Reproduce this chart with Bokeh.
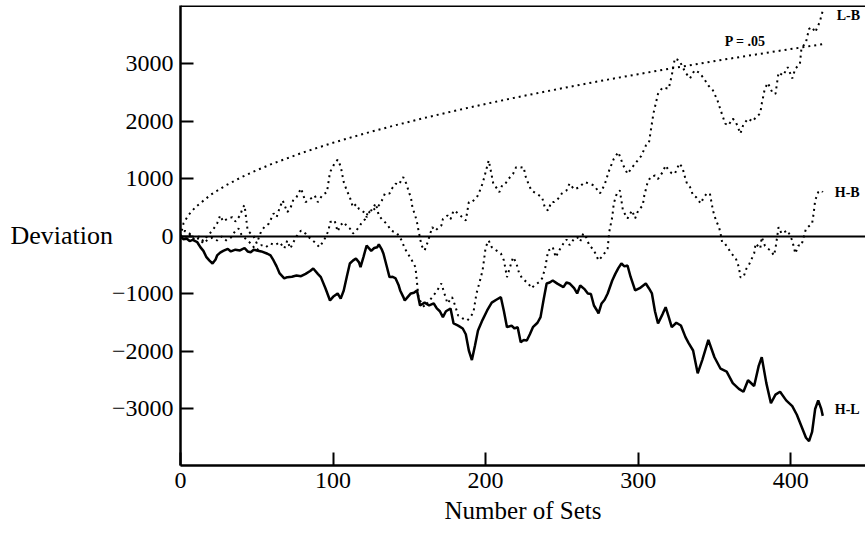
from bokeh.plotting import figure
from bokeh.models import Range1d, FixedTicker, Span, Label
from bokeh.embed import file_html
from bokeh.resources import INLINE

# ---- data ----
hl_sets = [0, 2, 4, 6, 8, 11, 13, 15, 17, 19, 21, 23, 24, 26, 28, 31, 33, 36, 39, 42, 44, 46, 48, 50, 53, 57, 59, 61, 63, 65, 68, 70, 73, 76, 79, 82, 85, 87, 90, 92, 95, 98, 100, 103, 105, 107, 109, 111, 113, 115, 117, 118, 120, 122, 125, 127, 129, 130, 132, 133, 135, 137, 139, 141, 143, 144, 146, 147, 149, 151, 153, 155, 157, 160, 163, 166, 168, 170, 172, 174, 177, 179, 182, 185, 187, 189, 191, 193, 195, 198, 201, 204, 207, 210, 212, 214, 217, 219, 221, 223, 225, 227, 229, 231, 234, 236, 238, 240, 242, 244, 247, 249, 251, 253, 255, 258, 260, 262, 265, 267, 269, 271, 273, 274, 276, 278, 280, 283, 285, 287, 289, 291, 293, 295, 298, 301, 305, 307, 309, 311, 313, 316, 318, 320, 322, 325, 328, 331, 333, 336, 339, 342, 346, 350, 354, 358, 362, 366, 369, 372, 376, 379, 381, 384, 387, 390, 393, 397, 401, 404, 407, 410, 412, 414, 416, 418, 420, 421]
hl_dev = [0, -50, -35, -80, -60, -100, -186, -250, -360, -420, -470, -400, -330, -280, -250, -215, -260, -230, -243, -200, -260, -273, -230, -243, -260, -300, -330, -417, -520, -643, -730, -707, -700, -680, -690, -650, -600, -557, -650, -707, -900, -1113, -1050, -991, -1080, -939, -700, -470, -420, -383, -450, -533, -350, -157, -250, -200, -186, -139, -230, -296, -500, -707, -700, -730, -850, -939, -1050, -1113, -1050, -991, -980, -939, -1200, -1150, -1200, -1165, -1250, -1300, -1403, -1300, -1252, -1513, -1550, -1600, -1700, -1983, -2150, -1900, -1635, -1450, -1287, -1150, -1100, -1055, -1300, -1577, -1550, -1600, -1577, -1838, -1800, -1809, -1700, -1577, -1500, -1403, -1100, -817, -800, -765, -820, -850, -881, -800, -817, -900, -991, -852, -920, -991, -1000, -1200, -1287, -1339, -1165, -1100, -991, -765, -650, -550, -470, -520, -504, -700, -939, -900, -817, -900, -991, -1300, -1513, -1350, -1229, -1400, -1577, -1500, -1548, -1751, -1850, -1983, -2380, -2150, -1800, -2100, -2300, -2350, -2550, -2650, -2700, -2500, -2600, -2250, -2100, -2550, -2900, -2750, -2700, -2850, -2950, -3100, -3300, -3500, -3560, -3400, -3000, -2850, -3000, -3120]

hb_sets = [0, 3, 6, 9, 12, 15, 18, 21, 24, 27, 30, 33, 36, 38, 40, 43, 46, 48, 50, 53, 56, 59, 62, 65, 68, 70, 72, 74, 76, 79, 82, 85, 88, 91, 94, 97, 98, 101, 103, 105, 107, 109, 111, 113, 115, 117, 119, 121, 122, 123, 125, 128, 130, 132, 134, 136, 138, 140, 142, 145, 147, 149, 151, 154, 155, 156, 158, 160, 162, 165, 168, 171, 173, 175, 178, 180, 182, 185, 188, 190, 192, 194, 196, 198, 199, 200, 202, 204, 207, 210, 212, 214, 216, 218, 220, 222, 224, 228, 230, 232, 235, 237, 239, 241, 243, 244, 246, 248, 251, 253, 255, 258, 260, 262, 264, 266, 268, 270, 272, 274, 277, 280, 281, 283, 284, 286, 288, 290, 293, 296, 298, 300, 303, 304, 306, 308, 311, 313, 316, 318, 320, 322, 324, 327, 329, 331, 332, 334, 336, 338, 341, 343, 345, 347, 349, 351, 353, 354, 355, 357, 359, 361, 364, 366, 367, 369, 371, 373, 376, 377, 380, 381, 383, 385, 387, 389, 390, 392, 394, 396, 398, 401, 403, 405, 407, 410, 412, 414, 415, 416, 418, 420, 421]
hb_dev = [0, -60, 30, -80, -30, -120, -50, -20, -70, 0, -70, -20, 100, 139, 30, -50, -120, -186, -243, -150, -186, -122, -150, -100, -209, -70, -209, -100, 0, 104, 50, -35, -100, -186, -70, 100, 249, 278, 87, 200, 249, 180, 139, 50, 100, 162, 249, 300, 365, 423, 452, 574, 365, 300, 249, 191, 104, 80, 52, -70, -209, -296, -383, -533, -794, -1055, -1165, -1229, -1150, -1055, -950, -817, -991, -1165, -1055, -1200, -1374, -1426, -1460, -1400, -1322, -991, -800, -591, -400, -186, -70, -186, -243, -296, -417, -707, -530, -360, -450, -643, -730, -817, -900, -850, -794, -730, -556, -243, -220, -186, -360, -250, -122, -53, -150, -40, -12, -87, 52, -20, -157, -209, -296, -417, -330, -209, 75, 336, 574, 748, 800, 452, 313, 452, 313, 450, 540, 713, 920, 1032, 1060, 1000, 1118, 1235, 1150, 1100, 1090, 1270, 1200, 1000, 920, 858, 713, 683, 574, 683, 748, 748, 452, 278, 162, 52, -99, -130, -209, -290, -383, -533, -707, -707, -556, -470, -296, -122, -209, -12, -157, -209, -250, -330, -209, 162, 50, 80, 104, -70, -296, -157, -157, 139, 180, 226, 400, 626, 771, 800, 771]

lb_sets = [0, 3, 6, 9, 12, 15, 18, 21, 24, 26, 28, 31, 34, 36, 39, 41, 42, 44, 46, 48, 50, 53, 55, 58, 61, 63, 65, 67, 70, 72, 74, 76, 79, 82, 85, 88, 90, 93, 96, 98, 101, 103, 105, 107, 109, 111, 113, 115, 117, 119, 121, 122, 124, 126, 128, 130, 132, 134, 137, 139, 141, 143, 146, 148, 150, 151, 152, 154, 155, 156, 158, 160, 162, 165, 167, 169, 171, 172, 175, 177, 179, 181, 184, 187, 189, 191, 193, 195, 198, 200, 202, 203, 205, 207, 209, 211, 213, 215, 218, 220, 223, 225, 226, 228, 230, 233, 237, 239, 241, 243, 245, 247, 250, 253, 255, 258, 261, 265, 268, 271, 275, 278, 281, 284, 287, 290, 293, 296, 299, 302, 305, 307, 310, 313, 316, 320, 322, 324, 327, 331, 334, 337, 340, 343, 346, 349, 352, 354, 357, 359, 362, 364, 367, 369, 372, 375, 377, 380, 381, 383, 385, 388, 390, 392, 395, 398, 401, 403, 406, 407, 410, 412, 414, 416, 418, 419, 421]
lb_dev = [0, 100, 50, -50, 0, -80, 20, 104, 226, 365, 260, 313, 336, 260, 365, 510, 545, 104, 52, 0, -120, 100, 162, 226, 400, 336, 500, 626, 423, 487, 643, 683, 835, 597, 650, 713, 597, 720, 771, 1118, 1270, 1335, 1220, 945, 800, 683, 510, 560, 480, 452, 400, 336, 435, 452, 500, 540, 626, 748, 748, 850, 920, 900, 1032, 920, 748, 683, 510, 350, 249, 104, -157, -243, -100, 162, 100, 150, 191, 304, 365, 300, 452, 420, 350, 278, 597, 597, 650, 713, 920, 1118, 1322, 1200, 920, 850, 771, 900, 920, 1000, 1090, 1205, 1200, 1205, 1060, 920, 800, 750, 683, 487, 452, 597, 600, 640, 748, 800, 920, 820, 850, 945, 920, 887, 750, 900, 1150, 1350, 1466, 1250, 1090, 1200, 1300, 1400, 1580, 1620, 2140, 2480, 2590, 2570, 2800, 3095, 3060, 2850, 2750, 2890, 2850, 2750, 2625, 2540, 2365, 2200, 1965, 1930, 2050, 1990, 1790, 1950, 2050, 2000, 2070, 2140, 2310, 2570, 2670, 2500, 2480, 2850, 2800, 2944, 2750, 2920, 3000, 3270, 3380, 3610, 3640, 3550, 3670, 3730, 3930]

p05_sets = [0, 2, 5, 10, 20, 30, 40, 50, 60, 80, 100, 120, 140, 160, 180, 200, 220, 240, 260, 280, 300, 320, 340, 360, 380, 400, 423]
p05_dev = [0, 231, 364, 515, 729, 893, 1031, 1153, 1263, 1458, 1630, 1786, 1929, 2062, 2187, 2305, 2418, 2525, 2628, 2728, 2823, 2916, 3006, 3093, 3177, 3260, 3352]

x_ticks = [0, 100, 200, 300, 400]
y_ticks = [-3000, -2000, -1000, 0, 1000, 2000, 3000]
y_tick_labels = ["\u22123000", "\u22122000", "\u22121000", "0", "1000", "2000", "3000"]

SERIF = "Liberation Serif"

p = figure(width=865, height=537, output_backend="svg", toolbar_location=None,
           x_range=Range1d(0, 449), y_range=Range1d(-3983, 4017),
           min_border_left=180, min_border_right=0, min_border_top=5,
           min_border_bottom=72)
p.grid.visible = False
p.outline_line_color = None
p.background_fill_color = "white"
p.border_fill_color = "white"

for ax in (p.xaxis, p.yaxis):
    ax.axis_line_width = 2.5
    ax.axis_line_color = "black"
    ax.major_tick_in = 13
    ax.major_tick_out = 0
    ax.major_tick_line_width = 2
    ax.major_tick_line_color = "black"
    ax.minor_tick_line_color = None
    ax.major_label_text_font = SERIF
    ax.major_label_text_font_size = "24px"
    ax.major_label_text_color = "black"

p.xaxis.ticker = FixedTicker(ticks=x_ticks)
p.yaxis.ticker = FixedTicker(ticks=y_ticks)
p.yaxis.major_label_overrides = {t: s for t, s in zip(y_ticks, y_tick_labels)}
p.xaxis.major_label_standoff = 7
p.yaxis.major_label_standoff = 7
p.xaxis.axis_label = "Number of Sets"
p.xaxis.axis_label_text_font = SERIF
p.xaxis.axis_label_text_font_size = "25px"
p.xaxis.axis_label_text_font_style = "normal"
p.xaxis.axis_label_text_color = "black"
p.xaxis.axis_label_standoff = 6

p.yaxis.axis_label = "Deviation"
p.yaxis.axis_label_orientation = "horizontal"
p.yaxis.axis_label_text_font = SERIF
p.yaxis.axis_label_text_font_size = "26px"
p.yaxis.axis_label_text_font_style = "normal"
p.yaxis.axis_label_text_color = "black"
p.yaxis.axis_label_standoff = -4

# top border and zero line
p.add_layout(Span(location=4017, dimension="width", line_color="black", line_width=3))
p.add_layout(Span(location=0, dimension="width", line_color="black", line_width=2))

# series
p.line(p05_sets, p05_dev, line_color="black", line_width=2, line_dash="2 4")
p.line(hb_sets, hb_dev, line_color="black", line_width=2, line_dash="2 4")
p.line(lb_sets, lb_dev, line_color="black", line_width=2, line_dash="2 4")
p.line(hl_sets, hl_dev, line_color="black", line_width=2.5)

# labels
lab = dict(text_font=SERIF, text_font_size="14px", text_font_style="bold",
           text_color="black", text_baseline="middle", text_align="left")
p.add_layout(Label(x=lb_sets[-1], y=lb_dev[-1], x_offset=14, y_offset=-5, text="L-B", **lab))
p.add_layout(Label(x=hb_sets[-1], y=hb_dev[-1], x_offset=12, y_offset=0, text="H-B", **lab))
p.add_layout(Label(x=hl_sets[-1], y=hl_dev[-1], x_offset=12, y_offset=6, text="H-L", **lab))
p.add_layout(Label(x=p05_sets[-1], y=p05_dev[-1], x_offset=-101, y_offset=2, text="P = .05", **lab))

open("out.html", "w").write(file_html(p, INLINE))
